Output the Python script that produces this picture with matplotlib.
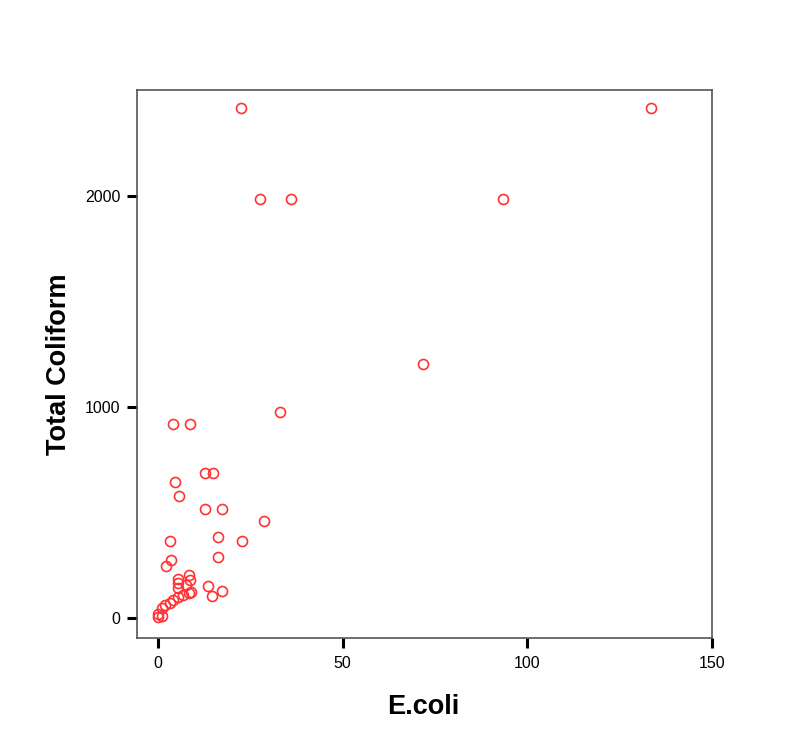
import matplotlib
matplotlib.use("Agg")
import matplotlib.pyplot as plt

plt.rcParams['font.family'] = ['Liberation Sans', 'DejaVu Sans']

ecoli = [22.5, 133.5, 27.5, 36.0, 93.5, 71.7, 33.0, 4.1, 8.6, 12.6, 14.9, 4.5, 5.6,
         12.6, 17.4, 28.7, 16.3, 22.7, 3.3, 16.3, 3.5, 2.2, 8.4, 5.5, 8.8, 5.5, 7.6,
         5.5, 8.4, 6.8, 5.5, 4.1, 3.2, 2.0, 1.0, 0.0, 0.0, 13.6, 17.4, 14.6, 9.0, 1.0]
total_coliform = [2419.6, 2419.6, 1986.3, 1986.3, 1986.3, 1203.3, 980, 920, 920, 687,
                  687, 648, 579, 517, 517, 461, 387, 365, 365, 291, 276, 248, 204, 186,
                  181, 166, 157, 143, 118, 108, 102, 86, 71, 62, 46, 20, 5, 152, 131,
                  105, 125, 10]
x_ticks = [0, 50, 100, 150]
y_ticks = [0, 1000, 2000]

fig = plt.figure(figsize=(8.01, 7.55), dpi=100)
ax = fig.add_axes([0.1714, 0.1553, 0.7175, 0.7255])

ax.plot(ecoli, total_coliform, linestyle='none', marker='o', markersize=7.2,
        markerfacecolor='none', markeredgecolor='#ff3333', markeredgewidth=1.2)

ax.set_xlim(-5.6, 149.8)
ax.set_ylim(-93, 2505)
ax.set_xticks(x_ticks)
ax.set_yticks(y_ticks)
ax.tick_params(axis='both', direction='out', length=7.2, width=2.2, color='black',
               labelsize=11.5, pad=5)
ax.tick_params(axis='x', pad=6)
for s in ax.spines.values():
    s.set_color('#555555')
    s.set_linewidth(1.2)

fig.text(423 / 801, 1 - 707.5 / 755, 'E.coli', fontsize=19.5, fontweight='bold',
         ha='center', va='center')
fig.text(59 / 801, 1 - 364 / 755, 'Total Coliform', fontsize=19.5, fontweight='bold',
         ha='center', va='center', rotation=90)

fig.savefig('out.png', dpi=100)
